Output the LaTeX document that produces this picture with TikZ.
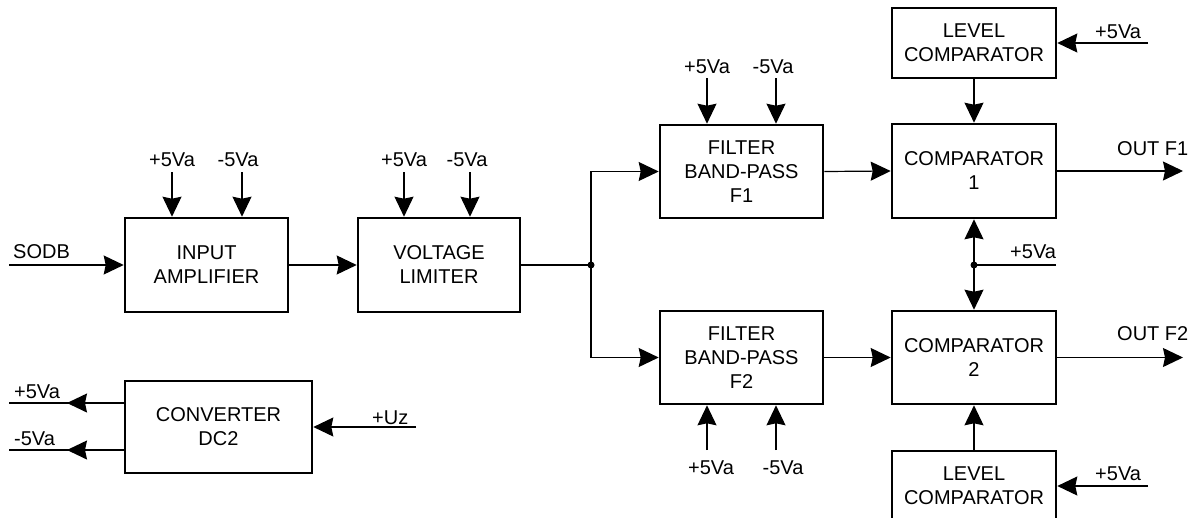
\documentclass[tikz,border=0pt]{standalone}
\usepackage{fontspec}
\setmainfont{Liberation Sans}
\usetikzlibrary{arrows.meta,calc}
\begin{document}
\begin{tikzpicture}[x=1pt,y=-1pt,
  box/.style={draw, line width=2.6pt, rectangle, align=center, font=\fontsize{20}{24}\selectfont, inner sep=0pt},
  wire/.style={line width=1.2pt},
  arr/.style={wire, -{Stealth[length=20pt,width=19pt,inset=2pt]}},
  lbl/.style={inner sep=0pt, font=\fontsize{20}{24}\selectfont},
  jdot/.style={circle, fill, inner sep=0pt, minimum size=7pt}]
\useasboundingbox (0,0) rectangle (1200,517);

% blocks
\node[box, minimum width=163pt, minimum height=94pt] (amp) at (206.5,265) {INPUT\\AMPLIFIER};
\node[box, minimum width=162pt, minimum height=94pt] (lim) at (439,265) {VOLTAGE\\LIMITER};
\node[box, minimum width=163pt, minimum height=93pt] (f1) at (741.5,171.5) {FILTER\\BAND-PASS\\F1};
\node[box, minimum width=163pt, minimum height=93pt] (f2) at (741.5,357.5) {FILTER\\BAND-PASS\\F2};
\node[box, minimum width=164pt, minimum height=94pt] (c1) at (974,171) {COMPARATOR\\1};
\node[box, minimum width=164pt, minimum height=93pt] (c2) at (974,357.5) {COMPARATOR\\2};
\node[box, minimum width=164pt, minimum height=70pt] (lc1) at (974,43) {LEVEL\\COMPARATOR};
\node[box, minimum width=164pt, minimum height=70pt] (lc2) at (974,486) {LEVEL\\COMPARATOR};
\node[box, minimum width=187pt, minimum height=92pt] (conv) at (218.5,427) {CONVERTER\\DC2};

% junctions
\node[jdot] (j1) at (591,265) {};
\node[jdot] (j2) at (974,265) {};

% free ends
\coordinate (sodb) at (9,265);
\coordinate (out1) at (1183,171);
\coordinate (out2) at (1183,357.5);
\coordinate (s1) at (1148,43);
\coordinate (s2) at (1148,486);
\coordinate (s3) at (1056,265);
\coordinate (cp) at (9,403);
\coordinate (cm) at (9,450);
\coordinate (cpt) at (67,403);
\coordinate (cmt) at (67,450);
\coordinate (uz) at (416,427);
\coordinate (ap) at (172,172);
\coordinate (am) at (242,172);
\coordinate (lp) at (404,172);
\coordinate (lm) at (470,172);
\coordinate (fp1) at (707,78);
\coordinate (fm1) at (776,78);
\coordinate (fp2) at (707,450);
\coordinate (fm2) at (776,450);

% signal path
\draw[arr] (sodb) -- (amp.west);
\draw[arr] (amp.east) -- (lim.west);
\draw[wire] (lim.east) -- (j1.center);
\draw[arr] (j1.center) |- (f1.west);
\draw[arr] (j1.center) |- (f2.west);
\draw[arr] (f1.east) -- (c1.west);
\draw[arr] (f2.east) -- (c2.west);
\draw[arr] (c1.east) -- (out1);
\draw[arr] (c2.east) -- (out2);
\draw[arr] (lc1.south) -- (c1.north);
\draw[arr] (lc2.north) -- (c2.south);
\draw[arr] (s1) -- (lc1.east);
\draw[arr] (s2) -- (lc2.east);
\draw[wire] (s3) -- (j2.center);
\draw[arr] (j2.center) -- (c1.south);
\draw[arr] (j2.center) -- (c2.north);

% supplies
\draw[arr] (ap) -- (ap |- amp.north);
\draw[arr] (am) -- (am |- amp.north);
\draw[arr] (lp) -- (lp |- lim.north);
\draw[arr] (lm) -- (lm |- lim.north);
\draw[arr] (fp1) -- (fp1 |- f1.north);
\draw[arr] (fm1) -- (fm1 |- f1.north);
\draw[arr] (fp2) -- (fp2 |- f2.south);
\draw[arr] (fm2) -- (fm2 |- f2.south);

% converter
\draw[wire] (cp -| conv.west) -- (cp);
\draw[arr] (cp -| conv.west) -- (cpt);
\draw[wire] (cm -| conv.west) -- (cm);
\draw[arr] (cm -| conv.west) -- (cmt);
\draw[arr] (uz) -- (conv.east);

% labels
\node[lbl, anchor=base west] (tsodb) at (13,258) {SODB};
\node[lbl, anchor=base] (tap) at (172,166) {+5Va};
\node[lbl, anchor=base] (tam) at (238,166) {-5Va};
\node[lbl, anchor=base] (tlp) at (404,166) {+5Va};
\node[lbl, anchor=base] (tlm) at (467,166) {-5Va};
\node[lbl, anchor=base] (tfp1) at (707,73) {+5Va};
\node[lbl, anchor=base] (tfm1) at (773,73) {-5Va};
\node[lbl, anchor=base] (tfp2) at (711,474) {+5Va};
\node[lbl, anchor=base] (tfm2) at (783,474) {-5Va};
\node[lbl, anchor=base west] (ts1) at (1095,38) {+5Va};
\node[lbl, anchor=base west] (ts2) at (1095,480) {+5Va};
\node[lbl, anchor=base west] (ts3) at (1010,258) {+5Va};
\node[lbl, anchor=base west] (tout1) at (1117,155) {OUT F1};
\node[lbl, anchor=base west] (tout2) at (1117,340) {OUT F2};
\node[lbl, anchor=base west] (tcp) at (14,398) {+5Va};
\node[lbl, anchor=base west] (tcm) at (14,445) {-5Va};
\node[lbl, anchor=base west] (tuz) at (372,424) {+Uz};
\end{tikzpicture}
\end{document}
